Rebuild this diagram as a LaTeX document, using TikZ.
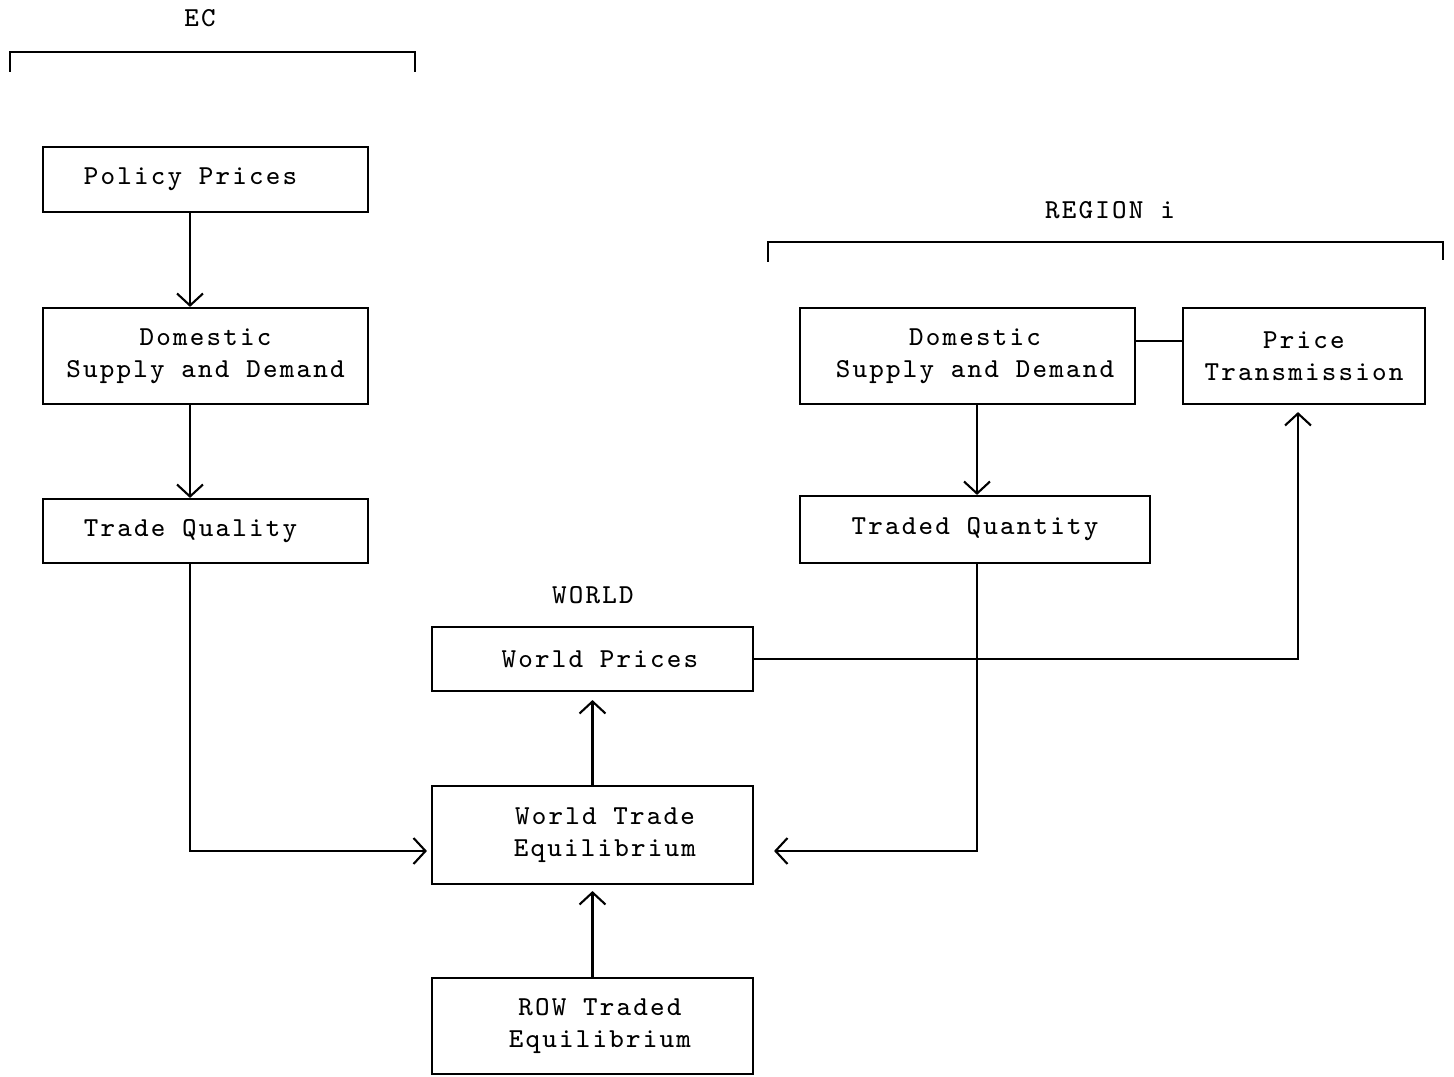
\documentclass[tikz,border=0pt]{standalone}
\usepackage{fontspec}
\setmonofont{Latin Modern Mono}[LetterSpace=8]
\usepackage{tikz}
\usetikzlibrary{arrows.meta, positioning, calc}

\tikzset{
  blk/.style={draw, line width=0.6pt, inner sep=0pt, align=center,
    font=\ttfamily\fontsize{7.8}{9.1}\selectfont},
  lbl/.style={font=\ttfamily\fontsize{7.8}{9.1}\selectfont},
  arr/.style={line width=0.6pt, -{Straight Barb[length=1.2mm, width=2.6mm]}},
}

\begin{document}
\begin{tikzpicture}
  \useasboundingbox (0,0) rectangle (14.54,10.76);

  % EC side
  \node[lbl] (ec) at (2.00,10.58) {EC};
  \draw[line width=0.6pt] (0.10,10.04) -- (0.10,10.24) -- (4.15,10.24) -- (4.15,10.04);
  \node[blk, minimum width=3.25cm, minimum height=0.65cm] (pp) at (2.055,8.965) {Policy Prices\hspace*{0.3cm}};
  \node[blk, minimum width=3.25cm, minimum height=0.96cm] (dsdEC) at (2.055,7.20) {Domestic\\Supply and Demand};
  \node[blk, minimum width=3.25cm, minimum height=0.64cm] (tq) at (2.055,5.45) {Trade Quality\hspace*{0.3cm}};

  % world
  \node[lbl] (world) at (5.93,4.81) {WORLD};
  \node[blk, minimum width=3.21cm, minimum height=0.64cm] (wp) at (5.925,4.17) {\hspace*{0.15cm}World Prices};
  \node[blk, minimum width=3.21cm, minimum height=0.98cm] (wte) at (5.925,2.41) {\hspace*{0.25cm}World Trade\\\hspace*{0.25cm}Equilibrium};
  \node[blk, minimum width=3.21cm, minimum height=0.96cm] (row) at (5.925,0.50) {\hspace*{0.15cm}ROW Traded\\\hspace*{0.15cm}Equilibrium};

  % region i
  \node[lbl] (reg) at (11.10,8.66) {REGION i};
  \draw[line width=0.6pt] (7.68,8.14) -- (7.68,8.34) -- (14.43,8.34) -- (14.43,8.16);
  \node[blk, minimum width=3.35cm, minimum height=0.96cm] (dsdR) at (9.675,7.20) {\hspace*{0.15cm}Domestic\\\hspace*{0.15cm}Supply and Demand};
  \node[blk, minimum width=2.42cm, minimum height=0.96cm] (pt) at (13.04,7.20) {Price\\Transmission};
  \node[blk, minimum width=3.50cm, minimum height=0.67cm] (tqR) at (9.75,5.465) {Traded Quantity};

  % connectors
  \draw[arr] ([xshift=-0.155cm]pp.south) -- ([xshift=-0.155cm]dsdEC.north);
  \draw[arr] ([xshift=-0.155cm]dsdEC.south) -- ([xshift=-0.155cm]tq.north);
  \draw[arr, shorten >=0.04cm] ([xshift=-0.155cm]tq.south) |- ([yshift=-0.16cm]wte.west);
  \draw[arr, shorten >=0.08cm] (wte.north) -- (wp.south);
  \draw[arr, shorten >=0.06cm] (row.north) -- (wte.south);
  \draw[arr] ([xshift=0.095cm]dsdR.south) -- ([xshift=0.095cm]dsdR.south |- tqR.north);
  \draw[arr, shorten >=0.2cm] ([xshift=0.02cm]tqR.south) |- ([yshift=-0.16cm]wte.east);
  \draw[arr, shorten >=0.07cm] (wp.east) -| ([xshift=-0.06cm]pt.south);
  \draw[line width=0.6pt] ([yshift=0.15cm]dsdR.east) -- ([yshift=0.15cm]pt.west);
\end{tikzpicture}
\end{document}
